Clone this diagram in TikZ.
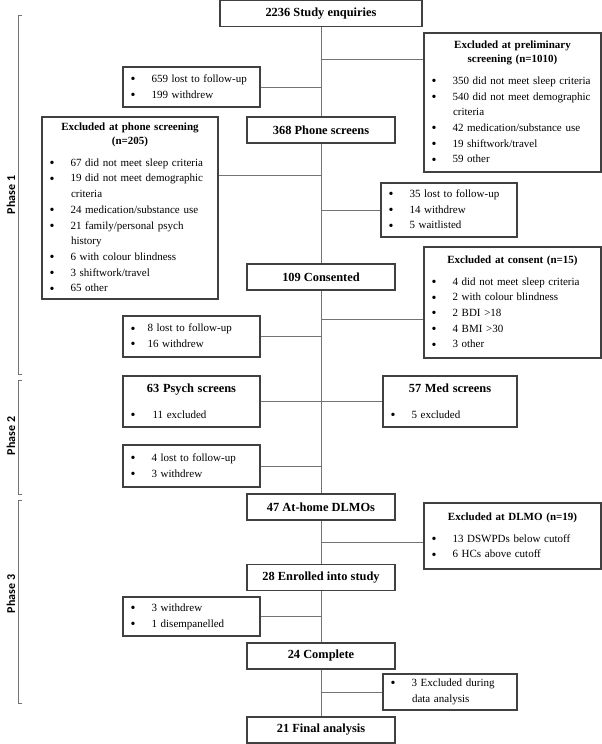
\documentclass[tikz,border=0pt]{standalone}
\usepackage{fontspec}
\setmainfont{Liberation Serif}
\newfontfamily\phasefont{Carlito}
\hbadness=10000 \hfuzz=30pt
\tikzset{
 bx/.style={draw=black!75, line width=1.1pt, rectangle, inner sep=0pt, align=left,
   font=\fontsize{11}{15.7}\selectfont},
 cbox/.style={draw=black!75, line width=1.1pt, rectangle, inner sep=0pt,
   minimum width=148pt, minimum height=26pt, font=\fontsize{12.4}{14}\selectfont\bfseries},
 conn/.style={draw=black!55, line width=1pt},
 brk/.style={draw=black!55, line width=1pt},
 phase/.style={rotate=90, inner sep=0pt, font=\phasefont\bfseries\fontsize{12}{14}\selectfont}
}
\newcommand\hd[1]{{\centering\fontsize{11}{14}\selectfont\bfseries #1\par}\vspace{6pt}}
\newcommand\ttl[1]{{\centering\fontsize{12.4}{14}\selectfont\bfseries #1\par}\vspace{10pt}}
\newdimen\bind
\newcommand\bul{\raisebox{-1.2pt}{\fontsize{14}{14}\selectfont\textbullet}}
\newcommand\bitem[2][21pt]{{\bind=#1\advance\bind by 8pt\noindent\hangindent=\bind\hangafter=1\hspace*{7.5pt}\makebox[#1][l]{\bul}#2\par}}
\begin{document}
\hyphenpenalty=10000 \exhyphenpenalty=10000
\begin{tikzpicture}[x=1pt,y=-1pt]
\useasboundingbox (0,0) rectangle (602,744);
% main column
\node[cbox, minimum width=202pt] (enq) at (321,13.5) {2236 Study enquiries};
\node[cbox] (phone) at (321,130) {368 Phone screens};
\node[cbox] (cons) at (321,277) {109 Consented};
\node[cbox] (dlmo) at (321,507) {47 At-home DLMOs};
\node[cbox] (enr) at (321,577.5) {28 Enrolled into study};
\node[cbox] (comp) at (321,656) {24 Complete};
\node[cbox] (fin) at (321,730) {21 Final analysis};
% side boxes
\node[bx, minimum width=177pt, minimum height=139pt, text width=177pt] (prelim) at (512.5,102.5) {%
 \hd{Excluded at preliminary\\screening (n=1010)}%
 \bitem{350 did not meet sleep criteria}%
 \bitem{540 did not meet demographic\newline criteria}%
 \bitem{42 medication/substance use}%
 \bitem{19 shiftwork/travel}%
 \bitem{59 other}};
\node[bx, minimum width=137pt, minimum height=40pt, text width=137pt] (lost1) at (191.5,87) {%
 \bitem{659 lost to follow-up}%
 \bitem{199 withdrew}};
\node[bx, minimum width=176pt, minimum height=182pt, text width=176pt] (phonex) at (130,208) {%
 \hd{Excluded at phone screening\\(n=205)}%
 \bitem{67 did not meet sleep criteria}%
 \bitem{19 did not meet demographic\newline criteria}%
 \bitem{24 medication/substance use}%
 \bitem{21 family/personal psych\newline history}%
 \bitem{6 with colour blindness}%
 \bitem{3 shiftwork/travel}%
 \bitem{65 other}};
\node[bx, minimum width=136pt, minimum height=54pt, text width=136pt] (lost2) at (449,210) {%
 \bitem{35 lost to follow-up}%
 \bitem{14 withdrew}%
 \bitem{5 waitlisted}};
\node[bx, minimum width=177pt, minimum height=111pt, text width=177pt] (consx) at (512.5,302.5) {%
 \hd{Excluded at consent (n=15)}%
 \bitem{4 did not meet sleep criteria}%
 \bitem{2 with colour blindness}%
 \bitem{2 BDI >18}%
 \bitem{4 BMI >30}%
 \bitem{3 other}};
\node[bx, minimum width=137pt, minimum height=41pt, text width=137pt] (lost3) at (191.5,336.5) {%
 \bitem[17pt]{8 lost to follow-up}%
 \bitem[17pt]{16 withdrew}};
\node[bx, minimum width=137pt, minimum height=51pt, text width=137pt] (psych) at (191.5,401.5) {%
 \ttl{63 Psych screens}%
 \bitem[22pt]{11 excluded}};
\node[bx, minimum width=134pt, minimum height=51pt, text width=134pt] (med) at (450,401.5) {%
 \ttl{57 Med screens}%
 \bitem{5 excluded}};
\node[bx, minimum width=137pt, minimum height=42pt, text width=137pt] (lost4) at (191.5,466) {%
 \bitem{4 lost to follow-up}%
 \bitem{3 withdrew}};
\node[bx, minimum width=177pt, minimum height=66pt, text width=177pt] (dlmox) at (512.5,536) {%
 \hd{Excluded at DLMO (n=19)}%
 \bitem{13 DSWPDs below cutoff}%
 \bitem{6 HCs above cutoff}};
\node[bx, minimum width=137pt, minimum height=39pt, text width=137pt] (wd) at (191.5,616.5) {%
 \bitem{3 withdrew}%
 \bitem{1 disempanelled}};
\node[bx, minimum width=134pt, minimum height=36pt, text width=134pt] (dax) at (450,692) {%
 \bitem{3 Excluded during\newline data analysis}};
% spine
\draw[conn] (enq) -- (phone);
\draw[conn] (phone) -- (cons);
\draw[conn] (cons) -- (dlmo);
\draw[conn] (dlmo) -- (enr);
\draw[conn] (enr) -- (comp);
\draw[conn] (comp) -- (fin);
% branches
\coordinate (b1) at (321,59);
\coordinate (b3) at (321,175);
\coordinate (b5) at (321,319);
\coordinate (b9) at (321,542);
\draw[conn] (b1) -- (b1 -| prelim.west);
\draw[conn] (lost1.east) -- (lost1.east -| enq);
\draw[conn] (b3 -| phonex.east) -- (b3);
\draw[conn] (lost2.west) -- (lost2.west -| enq);
\draw[conn] (b5) -- (b5 -| consx.west);
\draw[conn] (lost3.east) -- (lost3.east -| enq);
\draw[conn] (psych.east) -- (med.west);
\draw[conn] (lost4.east) -- (lost4.east -| enq);
\draw[conn] (b9) -- (b9 -| dlmox.west);
\draw[conn] (wd.east) -- (wd.east -| enq);
\draw[conn] (dax.west) -- (dax.west -| enq);
% phases
\node[phase] (ph1) at (11,195) {Phase 1};
\node[phase] (ph2) at (11,436) {Phase 2};
\node[phase] (ph3) at (11,594) {Phase 3};
\draw[brk] (22,15) -- (18,15) -- (18,374) -- (22,374);
\draw[brk] (22,380) -- (18,380) -- (18,494) -- (22,494);
\draw[brk] (22,500) -- (18,500) -- (18,703) -- (22,703);
\end{tikzpicture}
\end{document}
